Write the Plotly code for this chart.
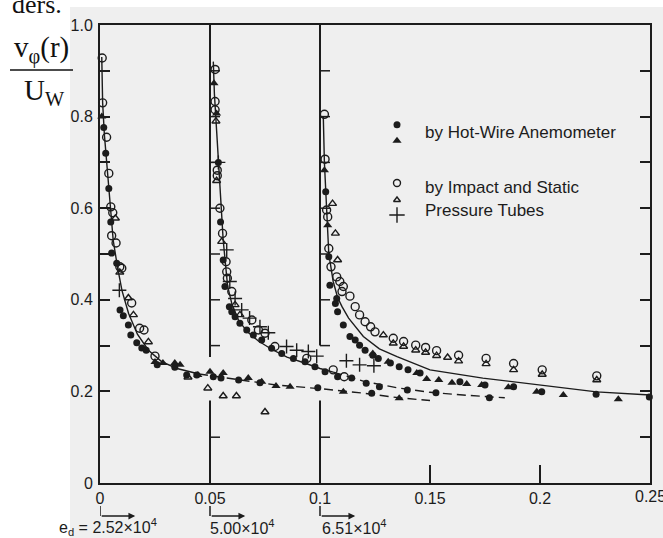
import plotly.graph_objects as go

INK = "#1c1c1c"
PANEL = "#efefef"

# ---- measured points, group 1 (e_d = 2.52e4, offset 0) ----
g1_hw_circ_x = [0.0017, 0.0026, 0.004, 0.0049, 0.0053, 0.0076, 0.0091, 0.0106, 0.0129, 0.014, 0.0167, 0.019,
                0.021, 0.026, 0.034, 0.0394, 0.044, 0.0515, 0.055, 0.063, 0.0727, 0.099, 0.1235]
g1_hw_circ_y = [0.776, 0.72, 0.643, 0.57, 0.502, 0.48, 0.378, 0.365, 0.345, 0.323, 0.306, 0.295,
                0.29, 0.258, 0.253, 0.236, 0.236, 0.232, 0.229, 0.225, 0.219, 0.208, 0.196]
g1_hw_tri_x = [0.0008, 0.025, 0.0286, 0.034, 0.0364, 0.0445, 0.05, 0.056, 0.0674, 0.0735, 0.08, 0.0864, 0.1106, 0.136]
g1_hw_tri_y = [0.80, 0.264, 0.262, 0.262, 0.258, 0.236, 0.243, 0.240, 0.229, 0.221, 0.212, 0.21, 0.199, 0.185]
g1_imp_circ_x = [0.001, 0.0012, 0.003, 0.004, 0.0049, 0.0058, 0.0053, 0.0073, 0.009, 0.0099, 0.0144, 0.018, 0.020, 0.025]
g1_imp_circ_y = [0.928, 0.83, 0.755, 0.676, 0.603, 0.59, 0.54, 0.524, 0.472, 0.469, 0.393, 0.338, 0.334, 0.277]
g1_imp_tri_x = [0.007, 0.009, 0.0129, 0.0152, 0.022, 0.040, 0.049, 0.056, 0.062, 0.075]
g1_imp_tri_y = [0.578, 0.46, 0.404, 0.367, 0.308, 0.231, 0.207, 0.19, 0.19, 0.155]
g1_cross_x = [0.0088]
g1_cross_y = [0.421]

# ---- group 2 (e_d = 5.00e4, offset 0.05) ----
g2_hw_circ_x = [0.0538, 0.0548, 0.056, 0.0568, 0.0588, 0.0599, 0.0614, 0.0636, 0.0667, 0.0697, 0.0735, 0.078,
                0.0826, 0.0879, 0.0932, 0.0977, 0.1023, 0.108, 0.1144, 0.121, 0.127, 0.1397, 0.1527, 0.177]
g2_hw_circ_y = [0.70, 0.57, 0.487, 0.429, 0.385, 0.374, 0.363, 0.349, 0.334, 0.323, 0.312, 0.294,
                0.283, 0.272, 0.265, 0.254, 0.243, 0.232, 0.229, 0.218, 0.21, 0.203, 0.197, 0.186]
g2_hw_tri_x = [0.0518, 0.053]
g2_hw_tri_y = [0.873, 0.807]
g2_imp_circ_x = [0.0523, 0.0523, 0.0523, 0.0533, 0.0533, 0.0545, 0.0557, 0.0573, 0.0576, 0.0579, 0.0599,
                 0.069, 0.072, 0.075, 0.0795, 0.094, 0.106, 0.111]
g2_imp_circ_y = [0.903, 0.833, 0.815, 0.683, 0.671, 0.60, 0.545, 0.483, 0.461, 0.447, 0.418,
                 0.356, 0.334, 0.327, 0.298, 0.272, 0.247, 0.232]
g2_imp_tri_x = [0.0527, 0.053, 0.0553, 0.0614, 0.0636]
g2_imp_tri_y = [0.79, 0.66, 0.527, 0.389, 0.367]
g2_cross_x = [0.0538, 0.0576, 0.059, 0.0614, 0.0644, 0.068, 0.0727, 0.0765, 0.0848, 0.0894, 0.0947, 0.0985,
              0.112, 0.118, 0.1245]
g2_cross_y = [0.70, 0.509, 0.44, 0.403, 0.378, 0.36, 0.341, 0.328, 0.298, 0.29, 0.287, 0.277,
              0.267, 0.258, 0.256]

# ---- group 3 (e_d = 6.51e4, offset 0.1) ----
g3_hw_circ_x = [0.1026, 0.104, 0.1045, 0.1076, 0.107, 0.108, 0.1106, 0.1136, 0.116, 0.118, 0.1205, 0.124,
                0.1265, 0.132, 0.136, 0.140, 0.1455, 0.1636, 0.175, 0.188, 0.2008, 0.2255, 0.2497]
g3_hw_circ_y = [0.636, 0.494, 0.432, 0.403, 0.392, 0.374, 0.345, 0.32, 0.312, 0.301, 0.29, 0.279,
                0.272, 0.262, 0.254, 0.247, 0.24, 0.221, 0.214, 0.21, 0.199, 0.194, 0.188]
g3_hw_tri_x = [0.102, 0.1035, 0.124, 0.131, 0.144, 0.1485, 0.154, 0.160, 0.1667, 0.1735, 0.1856, 0.1985,
               0.2106, 0.2356]
g3_hw_tri_y = [0.683, 0.563, 0.283, 0.265, 0.24, 0.227, 0.225, 0.219, 0.216, 0.214, 0.209, 0.199,
               0.192, 0.183]
g3_imp_circ_x = [0.102, 0.1023, 0.103, 0.1035, 0.104, 0.105, 0.1076, 0.109, 0.1106, 0.11, 0.1136, 0.116,
                 0.118, 0.1205, 0.123, 0.125, 0.1333, 0.138, 0.1435, 0.148, 0.153, 0.163, 0.1755, 0.188,
                 0.201, 0.2258, 0.2503]
g3_imp_circ_y = [0.805, 0.707, 0.596, 0.581, 0.512, 0.472, 0.45, 0.44, 0.429, 0.418, 0.408, 0.385,
                 0.367, 0.352, 0.341, 0.33, 0.316, 0.309, 0.301, 0.296, 0.289, 0.279, 0.272, 0.261,
                 0.247, 0.234, 0.225]
g3_imp_tri_x = [0.1057, 0.107, 0.108, 0.1288, 0.1333, 0.138, 0.1435, 0.148, 0.153, 0.158, 0.163, 0.1755,
                0.188, 0.201, 0.2258, 0.2503]
g3_imp_tri_y = [0.61, 0.545, 0.487, 0.323, 0.305, 0.298, 0.29, 0.285, 0.278, 0.274, 0.266, 0.26,
                0.247, 0.237, 0.225, 0.214]

# ---- fitted curves ----
g1_fit_x = [0.0008, 0.0012, 0.002, 0.003, 0.004, 0.005, 0.006, 0.008, 0.010, 0.013, 0.017, 0.022, 0.028, 0.035, 0.045]
g1_fit_y = [0.93, 0.83, 0.76, 0.70, 0.64, 0.58, 0.53, 0.47, 0.42, 0.37, 0.325, 0.29, 0.265, 0.25, 0.238]
g1_tail_x = [0.045, 0.06, 0.08, 0.10, 0.12, 0.136, 0.15]
g1_tail_y = [0.238, 0.228, 0.214, 0.206, 0.196, 0.186, 0.18]
g2_fit_x = [0.0515, 0.052, 0.053, 0.054, 0.055, 0.056, 0.057, 0.058, 0.060, 0.063, 0.067, 0.072, 0.078,
            0.085, 0.093, 0.100, 0.106]
g2_fit_y = [0.92, 0.85, 0.77, 0.69, 0.60, 0.53, 0.48, 0.43, 0.39, 0.355, 0.33, 0.31, 0.292,
            0.275, 0.262, 0.25, 0.242]
g2_tail_x = [0.106, 0.12, 0.135, 0.15, 0.165, 0.184]
g2_tail_y = [0.242, 0.222, 0.208, 0.198, 0.192, 0.186]
g3_fit_x = [0.1015, 0.102, 0.103, 0.104, 0.106, 0.108, 0.110, 0.113, 0.1197, 0.127, 0.135, 0.15, 0.174,
            0.2, 0.2257, 0.25]
g3_fit_y = [0.80, 0.70, 0.60, 0.50, 0.44, 0.405, 0.385, 0.36, 0.32, 0.293, 0.276, 0.247, 0.229,
            0.214, 0.199, 0.192]

# ---- axes ----
x_ticks = [0, 0.05, 0.1, 0.15, 0.2, 0.25]
x_tick_text = ["0", "0.05", "0.1", "0.15", "0.2", "0.25"]
y_ticks = [0, 0.2, 0.4, 0.6, 0.8, 1.0]
y_tick_text = ["0", "0.2", "0.4", "0.6", "0.8", "1.0"]
minor_y = [0.1, 0.2, 0.3, 0.4, 0.5, 0.6, 0.7, 0.8, 0.9]
offsets = [0.05, 0.1]
ed_labels = ["e<sub>d</sub> = 2.52×10<sup>4</sup>", "5.00×10<sup>4</sup>", "6.51×10<sup>4</sup>"]
ed_starts = [0.0, 0.05, 0.1]

# plot area in pixels: x 100..650, y 25..483
L, R, T, B = 100, 650, 25, 483
def px(xp):
    return (xp - L) / (R - L)
def py(yp):
    return (B - yp) / (B - T)

fig = go.Figure()

def line(x, y, dash="solid"):
    fig.add_trace(go.Scatter(x=x, y=y, mode="lines", line=dict(color=INK, width=1.4, dash=dash),
                             hoverinfo="skip", showlegend=False))

def pts(x, y, symbol, size, lw=1.4):
    fig.add_trace(go.Scatter(x=x, y=y, mode="markers", cliponaxis=False, showlegend=False,
                             marker=dict(symbol=symbol, size=size, color=INK,
                                         line=dict(color=INK, width=lw))))

line(g1_fit_x, g1_fit_y)
line(g1_tail_x, g1_tail_y, "9px,5px")
line(g2_fit_x, g2_fit_y)
line(g2_tail_x, g2_tail_y, "9px,5px")
line(g3_fit_x, g3_fit_y)

for cx, cy, ox, oy, tx, ty, ux, uy in [
    (g1_hw_circ_x, g1_hw_circ_y, g1_imp_circ_x, g1_imp_circ_y, g1_hw_tri_x, g1_hw_tri_y, g1_imp_tri_x, g1_imp_tri_y),
    (g2_hw_circ_x, g2_hw_circ_y, g2_imp_circ_x, g2_imp_circ_y, g2_hw_tri_x, g2_hw_tri_y, g2_imp_tri_x, g2_imp_tri_y),
    (g3_hw_circ_x, g3_hw_circ_y, g3_imp_circ_x, g3_imp_circ_y, g3_hw_tri_x, g3_hw_tri_y, g3_imp_tri_x, g3_imp_tri_y),
]:
    pts(ox, oy, "circle-open", 8)
    pts(ux, uy, "triangle-up-open", 7)
    pts(cx, cy, "circle", 7, 0)
    pts(tx, ty, "triangle-up", 8, 0)
pts(g1_cross_x + g2_cross_x, g1_cross_y + g2_cross_y, "cross-thin-open", 10, 1.4)

# ---- key ----
key_x = 0.135
pts([key_x], [0.782], "circle", 7, 0)
pts([key_x], [0.747], "triangle-up", 8, 0)
pts([key_x], [0.655], "circle-open", 7)
pts([key_x], [0.618], "triangle-up-open", 6)
pts([key_x], [0.585], "cross-thin-open", 11, 1.4)

KEY_FONT = dict(family="Liberation Sans, Arial, sans-serif", size=17, color=INK)
TICK_FONT = dict(family="Liberation Sans, Arial, sans-serif", size=16, color=INK)
annotations = [
    dict(x=0.147, y=0.766, text="by Hot-Wire Anemometer", showarrow=False, xanchor="left", yanchor="middle", font=KEY_FONT),
    dict(x=0.147, y=0.645, text="by Impact and Static", showarrow=False, xanchor="left", yanchor="middle", font=KEY_FONT),
    dict(x=0.147, y=0.594, text="Pressure Tubes", showarrow=False, xanchor="left", yanchor="middle", font=KEY_FONT),
    # last x label sits on the page edge, so it is placed by hand
    dict(x=1.0, y=py(496), xref="paper", yref="paper", text=x_tick_text[-1], showarrow=False,
         xanchor="center", yanchor="middle", font=TICK_FONT),
]

shapes = []
# grey panel behind the chart
shapes.append(dict(type="rect", xref="paper", yref="paper", x0=px(70), x1=px(670), y0=py(545), y1=py(7),
                   fillcolor=PANEL, line=dict(width=0), layer="below"))
# inner origin lines for the shifted curves
for ox, gap in zip(offsets, [(0.275, 0.18), (0.30, 0.18)]):
    shapes.append(dict(type="line", xref="x", yref="y", x0=ox, x1=ox, y0=1.0, y1=gap[0], line=dict(color=INK, width=2)))
    shapes.append(dict(type="line", xref="x", yref="y", x0=ox, x1=ox, y0=gap[1], y1=0, line=dict(color=INK, width=2)))
    for yv in minor_y:
        if gap[1] < yv < gap[0]:
            continue
        shapes.append(dict(type="line", xref="x", yref="y", xsizemode="pixel", xanchor=ox, x0=0, x1=10,
                           y0=yv, y1=yv, line=dict(color=INK, width=1.5)))

# e_d markers below the axis
for xs in ed_starts:
    shapes.append(dict(type="line", xref="x", yref="paper", x0=xs, x1=xs, y0=py(506), y1=py(516),
                       line=dict(color=INK, width=1.5)))
    annotations.append(dict(x=xs + 0.016, y=py(516), xref="x", yref="paper", ax=-35, ay=0, text="",
                            showarrow=True, arrowhead=2, arrowsize=0.9, arrowwidth=1.5, arrowcolor=INK))
for xl, lab in zip([57, 208, 320], ed_labels):
    annotations.append(dict(x=px(xl), y=py(527), xref="paper", yref="paper", text=lab, showarrow=False,
                            xanchor="left", yanchor="middle", font=TICK_FONT))

# quantity label on the left
SERIF = "Liberation Serif, Times New Roman, serif"
annotations.append(dict(x=px(41), y=py(50), xref="paper", yref="paper", xanchor="center", yanchor="middle",
                        text="v<sub>φ</sub>(r)", showarrow=False, font=dict(family=SERIF, size=29, color="#111")))
annotations.append(dict(x=px(44), y=py(92), xref="paper", yref="paper", xanchor="center", yanchor="middle",
                        text="U<sub>W</sub>", showarrow=False, font=dict(family=SERIF, size=29, color="#111")))
shapes.append(dict(type="line", xref="paper", yref="paper", x0=px(10), x1=px(73),
                   y0=py(70), y1=py(70), line=dict(color="#111", width=1.5)))
annotations.append(dict(x=px(10), y=py(5), xref="paper", yref="paper", text="ders.",
                        showarrow=False, xanchor="left", yanchor="middle",
                        font=dict(family=SERIF, size=26, color="#111")))

fig.update_layout(
    width=663, height=538,
    margin=dict(l=L, r=663 - R, t=T, b=538 - B),
    paper_bgcolor="white", plot_bgcolor="rgba(0,0,0,0)",
    shapes=shapes, annotations=annotations, showlegend=False,
    xaxis=dict(range=[0, 0.25], showgrid=False, zeroline=False, showline=True, mirror=True,
               linecolor=INK, linewidth=2, tickvals=x_ticks, ticktext=x_tick_text[:-1] + [""],
               ticks="inside", ticklen=18, tickwidth=1.5, tickcolor=INK, tickfont=TICK_FONT),
    yaxis=dict(range=[0, 1.0], showgrid=False, zeroline=False, showline=True, mirror="ticks",
               linecolor=INK, linewidth=2, tickvals=y_ticks, ticktext=y_tick_text,
               ticks="inside", ticklen=10, tickwidth=1.5, tickcolor=INK, tickfont=TICK_FONT,
               ticklabelstandoff=2,
               minor=dict(ticks="inside", ticklen=10, tickwidth=1.5, tickcolor=INK, dtick=0.1)),
)

fig.write_html("out.html")
